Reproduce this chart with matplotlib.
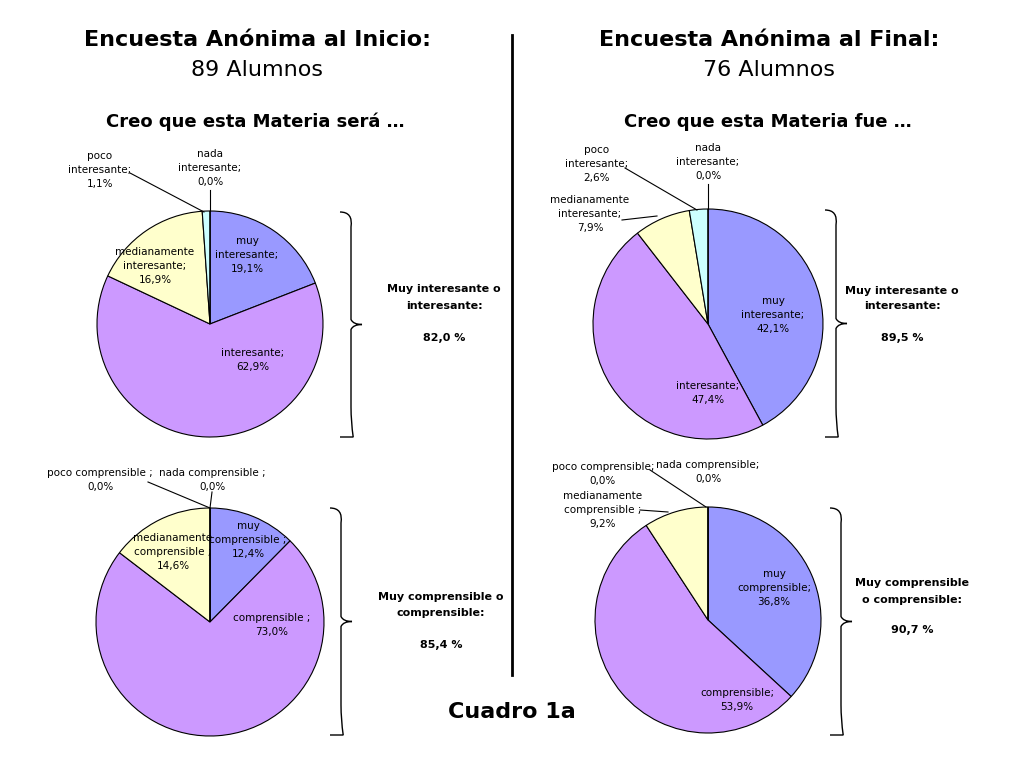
import matplotlib
matplotlib.use("Agg")
import matplotlib.pyplot as plt
from matplotlib.path import Path
from matplotlib.patches import PathPatch

# Data
colors = ["#9999FF", "#CC99FF", "#FFFFCC", "#CCFFFF", "#FFFFFF"]
inicio_interes = [19.1, 62.9, 16.9, 1.1, 0.0]
final_interes = [42.1, 47.4, 7.9, 2.6, 0.0]
inicio_compr = [12.4, 73.0, 14.6, 0.0, 0.0]
final_compr = [36.8, 53.9, 9.2, 0.0, 0.0]

H = 768
fig = plt.figure(figsize=(10.24, 7.68), dpi=100)
ax = fig.add_axes([0, 0, 1, 1])
ax.set_xlim(0, 1024)
ax.set_ylim(0, H)
ax.set_aspect("equal")
ax.axis("off")

def Y(py):
    return H - py

def pie(vals, cx, cy, r):
    ax.pie(vals, colors=colors, startangle=90, counterclock=False,
           center=(cx, Y(cy)), radius=r, frame=True,
           wedgeprops=dict(edgecolor="black", linewidth=0.8))

def txt(x, y, s, size=7.5, **kw):
    ax.text(x, Y(y), s, fontsize=size, ha="center", va="center",
            family="DejaVu Sans", linespacing=1.5, **kw)

def line(x0, y0, x1, y1, lw=0.8):
    ax.plot([x0, x1], [Y(y0), Y(y1)], color="black", lw=lw)

def brace(x, y0, y1, w=22):
    ym = (y0 + y1) / 2
    verts = [(x, y0), (x + w * 0.6, y0), (x + w * 0.5, y0 + 15), (x + w * 0.5, y0 + 30),
             (x + w * 0.5, ym - 15), (x + w * 0.5, ym - 10), (x + w * 0.5, ym - 5),
             (x + w * 0.6, ym), (x + w, ym), (x + w, ym),
             (x + w * 0.6, ym), (x + w * 0.5, ym + 5), (x + w * 0.5, ym + 10),
             (x + w * 0.5, ym + 15), (x + w * 0.5, y1 - 30), (x + w * 0.5, y1 - 30),
             (x + w * 0.5, y1 - 15), (x + w * 0.6, y1), (x, y1)]
    verts = [(vx, Y(vy)) for vx, vy in verts]
    codes = [Path.MOVETO] + [Path.CURVE3, Path.CURVE3, Path.LINETO,
             Path.LINETO, Path.CURVE3, Path.CURVE3, Path.CURVE3, Path.CURVE3, Path.LINETO,
             Path.CURVE3, Path.CURVE3, Path.CURVE3, Path.LINETO, Path.LINETO, Path.LINETO,
             Path.CURVE3, Path.CURVE3, Path.LINETO]
    ax.add_patch(PathPatch(Path(verts, codes), fill=False, lw=1.0, color="black"))

# Titles
txt(257, 40, "Encuesta Anónima al Inicio:", 16, weight="bold")
txt(257, 70, "89 Alumnos", 16)
txt(769, 40, "Encuesta Anónima al Final:", 16, weight="bold")
txt(769, 70, "76 Alumnos", 16)
txt(255, 122, "Creo que esta Materia será …", 13, weight="bold")
txt(768, 122, "Creo que esta Materia fue …", 13, weight="bold")
txt(512, 712, "Cuadro 1a", 16, weight="bold")
line(512, 35, 512, 675, lw=2)

# Top-left
pie(inicio_interes, 210, 324, 113)
txt(247, 255, "muy\ninteresante;\n19,1%")
txt(253, 360, "interesante;\n62,9%")
txt(155, 266, "medianamente\ninteresante;\n16,9%")
txt(100, 170, "poco\ninteresante;\n1,1%")
txt(210, 168, "nada\ninteresante;\n0,0%")
line(130, 173, 204, 212)
line(210, 190, 210, 211)
brace(340, 212, 437)
txt(444, 289, "Muy interesante o", 8, weight="bold")
txt(444, 306, "interesante:", 8, weight="bold")
txt(444, 338, "82,0 %", 8, weight="bold")

# Top-right
pie(final_interes, 708, 324, 115)
txt(773, 315, "muy\ninteresante;\n42,1%")
txt(708, 393, "interesante;\n47,4%")
txt(590, 214, "medianamente\ninteresante;\n7,9%")
txt(597, 164, "poco\ninteresante;\n2,6%")
txt(708, 162, "nada\ninteresante;\n0,0%")
line(625, 168, 697, 210)
line(708, 184, 708, 209)
line(622, 220, 657, 216)
brace(825, 210, 437)
txt(902, 291, "Muy interesante o", 8, weight="bold")
txt(902, 306, "interesante:", 8, weight="bold")
txt(902, 338, "89,5 %", 8, weight="bold")

# Bottom-left
pie(inicio_compr, 210, 622, 114)
txt(248, 540, "muy\ncomprensible ;\n12,4%")
txt(272, 625, "comprensible ;\n73,0%")
txt(173, 552, "medianamente\ncomprensible ;\n14,6%")
txt(100, 480, "poco comprensible ;\n0,0%")
txt(212, 480, "nada comprensible ;\n0,0%")
line(148, 482, 210, 508)
line(212, 492, 210, 508)
brace(330, 508, 735)
txt(441, 597, "Muy comprensible o", 8, weight="bold")
txt(441, 613, "comprensible:", 8, weight="bold")
txt(441, 645, "85,4 %", 8, weight="bold")

# Bottom-right
pie(final_compr, 708, 620, 113)
txt(774, 588, "muy\ncomprensible;\n36,8%")
txt(737, 700, "comprensible;\n53,9%")
txt(603, 510, "medianamente\ncomprensible ;\n9,2%")
txt(603, 474, "poco comprensible;\n0,0%")
txt(708, 472, "nada comprensible;\n0,0%")
line(650, 470, 706, 507)
line(640, 510, 668, 512)
brace(830, 508, 735)
txt(912, 583, "Muy comprensible", 8, weight="bold")
txt(912, 600, "o comprensible:", 8, weight="bold")
txt(912, 630, "90,7 %", 8, weight="bold")

fig.savefig("out.png", dpi=100)
